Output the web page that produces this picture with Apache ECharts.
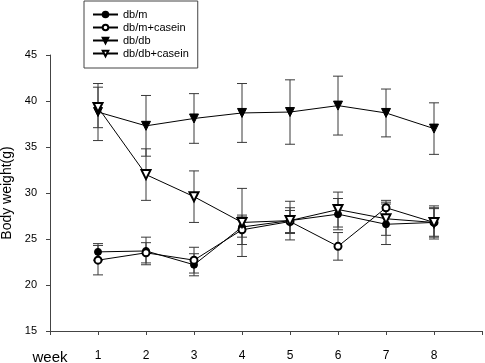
<!DOCTYPE html>
<html>
<head>
<meta charset="utf-8">
<script src="https://cdn.jsdelivr.net/npm/echarts@6/dist/echarts.min.js"></script>
<style>
  html, body { margin: 0; padding: 0; background: #fff; }
</style>
</head>
<body>
<div id="chart" style="width: 485px; height: 363px"></div>
<script>
// x tick labels (0 = "week", 9 = axis end)
var weekLabels = ["week", "1", "2", "3", "4", "5", "6", "7", "8", ""];
var weeks = [1, 2, 3, 4, 5, 6, 7, 8];

// body weight (g), mean and SD
var dbm = [23.6, 23.7, 22.2, 26.3, 27.0, 27.7, 26.6, 26.8];
var dbmErr = [0.9, 1.5, 1.2, 1.1, 1.4, 1.7, 2.2, 1.5];
var dbmCasein = [22.7, 23.5, 22.7, 26.0, 26.9, 24.2, 28.4, 26.8];
var dbmCaseinErr = [1.6, 1.1, 1.4, 1.6, 1.2, 1.5, 0.8, 1.6];
var dbdb = [38.8, 37.3, 38.1, 38.7, 38.8, 39.5, 38.7, 37.0];
var dbdbErr = [3.1, 3.3, 2.7, 3.2, 3.5, 3.2, 2.6, 2.8];
var dbdbCasein = [39.3, 32.0, 29.6, 26.8, 27.0, 28.2, 27.2, 26.8];
var dbdbCaseinErr = [2.2, 2.8, 2.8, 3.7, 2.1, 1.9, 1.8, 1.8];

// significance marks
var starWeeks = [3, 4, 5, 6, 7, 8];
var starY = [34.1, 32.6, 30.6, 31.7, 30.0, 29.7];

var myChart = echarts.init(document.getElementById("chart"));

function pairs(vals) {
  return weeks.map(function (w, i) { return [w, vals[i]]; });
}
function errPairs(vals, errs) {
  return weeks.map(function (w, i) { return [w, vals[i] - errs[i], vals[i] + errs[i]]; });
}

// 误差线
function renderErr(params, api) {
  var x = api.value(0);
  var lo = api.coord([x, api.value(1)]);
  var hi = api.coord([x, api.value(2)]);
  var w = 5;
  var st = { stroke: "#3a3a3a", lineWidth: 1 };
  return {
    type: "group",
    children: [
      { type: "line", shape: { x1: hi[0], y1: hi[1], x2: lo[0], y2: lo[1] }, style: st },
      { type: "line", shape: { x1: hi[0] - w, y1: hi[1], x2: hi[0] + w, y2: hi[1] }, style: st },
      { type: "line", shape: { x1: lo[0] - w, y1: lo[1], x2: lo[0] + w, y2: lo[1] }, style: st },
    ],
  };
}
function errSeries(vals, errs) {
  return {
    type: "custom",
    renderItem: renderErr,
    data: errPairs(vals, errs),
    encode: { x: 0, y: [1, 2] },
    z: 1,
    silent: true,
  };
}
function lineSeries(name, vals, symbol, rotate, size) {
  return {
    name: name,
    type: "line",
    data: pairs(vals),
    symbol: symbol,
    symbolRotate: rotate,
    symbolSize: size,
    showAllSymbol: true,
    lineStyle: { color: "#000", width: 1 },
    itemStyle: { color: "#000", borderColor: "#000", borderWidth: 1 },
    z: 3,
  };
}

var option = {
  animation: false,
  textStyle: { fontFamily: "Liberation Sans, Arial, sans-serif" },
  legend: {
    orient: "vertical",
    left: 84,
    top: 1,
    padding: [8, 9, 9, 8],
    itemGap: 2,
    itemWidth: 25,
    itemHeight: 7,
    borderColor: "#444",
    borderWidth: 1,
    textStyle: { fontSize: 11, color: "#000" },
    data: ["db/m", "db/m+casein", "db/db", "db/db+casein"],
  },
  grid: { left: 50, right: 3, top: 55, bottom: 32, outerBoundsMode: "none" },
  xAxis: {
    type: "value",
    min: 0,
    max: 9,
    interval: 1,
    splitLine: { show: false },
    axisLine: { lineStyle: { color: "#444" } },
    axisTick: { show: true, length: 4, lineStyle: { color: "#444" } },
    axisLabel: {
      margin: 19,
      color: "#000",
      fontSize: 12,
      showMinLabel: true,
      showMaxLabel: true,
      formatter: function (v) {
        var t = weekLabels[v] || "";
        return v === 0 ? "{w|" + t + "}" : t;
      },
      rich: { w: { fontSize: 15, color: "#000" } },
    },
  },
  yAxis: {
    type: "value",
    min: 15,
    max: 45,
    interval: 5,
    name: "Body weight(g)",
    nameLocation: "middle",
    nameGap: 35,
    nameTextStyle: { fontSize: 14, color: "#000" },
    splitLine: { show: false },
    axisLine: { show: true, lineStyle: { color: "#444" } },
    axisTick: { show: true, length: 4, lineStyle: { color: "#444" } },
    axisLabel: { color: "#000", fontSize: 11, margin: 13 },
  },
  series: [
    errSeries(dbm, dbmErr),
    errSeries(dbmCasein, dbmCaseinErr),
    errSeries(dbdb, dbdbErr),
    errSeries(dbdbCasein, dbdbCaseinErr),
    lineSeries("db/m", dbm, "circle", 0, 7),
    lineSeries("db/m+casein", dbmCasein, "emptyCircle", 0, 7),
    lineSeries("db/db", dbdb, "triangle", 180, 9),
    lineSeries("db/db+casein", dbdbCasein, "emptyTriangle", 180, 9),
    {
      type: "scatter",
      data: starWeeks.map(function (w, i) { return [w, starY[i]]; }),
      symbolSize: 1,
      itemStyle: { opacity: 0 },
      silent: true,
      label: {
        show: true,
        position: "inside",
        formatter: "*",
        fontSize: 10,
        color: "#000",
        offset: [0, 2],
      },
      z: 4,
    },
  ],
};

myChart.setOption(option);
</script>
</body>
</html>
